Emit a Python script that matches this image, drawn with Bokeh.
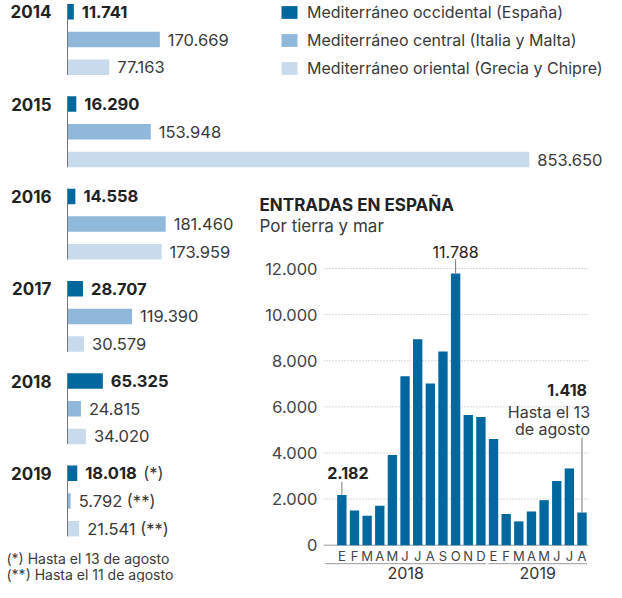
import numpy as np
from bokeh.plotting import figure
from bokeh.models import (ColumnDataSource, Range1d, Legend, LegendItem, Label,
                          FixedTicker)
from bokeh.layouts import column, row
from bokeh.transform import dodge
from bokeh.core.properties import value
from bokeh.embed import file_html
from bokeh.resources import INLINE

# ---------------- data ----------------
years = ["2014", "2015", "2016", "2017", "2018", "2019"]
occidental = [11741, 16290, 14558, 28707, 65325, 18018]
central = [170669, 153948, 181460, 119390, 24815, 5792]
oriental = [77163, 853650, 173959, 30579, 34020, 21541]
series_names = ["Mediterráneo occidental (España)",
                "Mediterráneo central (Italia y Malta)",
                "Mediterráneo oriental (Grecia y Chipre)"]
notes = {"2019": ["(*)", "(**)", "(**)"]}
footnotes = ["(*) Hasta el 13 de agosto", "(**) Hasta el 11 de agosto"]

month_labels = ["E", "F", "M", "A", "M", "J", "J", "A", "S", "O", "N", "D",
                "E", "F", "M", "A", "M", "J", "J", "A"]
month_years = ["2018"] * 12 + ["2019"] * 8
entradas = [2182, 1505, 1277, 1707, 3914, 7329, 8933, 7011, 8404, 11788, 5651, 5565,
            4602, 1350, 1032, 1462, 1952, 2783, 3329, 1418]
y_ticks = [0, 2000, 4000, 6000, 8000, 10000, 12000]
y_tick_labels = ["0", "2.000", "4.000", "6.000", "8.000", "10.000", "12.000"]
inset_title = "ENTRADAS EN ESPAÑA"
inset_subtitle = "Por tierra y mar"
last_note = ["Hasta el 13", "de agosto"]

# ---------------- style / layout ----------------
FONT = "Inter"
COLORS = ["#00689e", "#8fb8da", "#c8dbec"]
DARK_TXT = "#222222"
TXT = "#3a3a3a"
VAL_SIZE = "16.5px"

DX, DY = 4, 9       # shift of the whole picture, px
K = 0.000541        # px per person (left chart)
PXY = 92.3          # px per year group
ROW = 27.7 / PXY    # row spacing inside a group
BH = 15.5 / PXY     # bar thickness
Y0_PX = 20.3 - DY   # canvas y of the first row
AXIS_PX = 71 - DX   # canvas x of the left chart baseline
NOTE_OFF = 66       # offset of the note after a bold value
W = 606
H = 582
TOP_H = 190 - DY
BOT_H = H - TOP_H
LEFT_W = 250
IN_W = W - LEFT_W
TITLE_H = 58
CH_H = BOT_H - TITLE_H


def fmt(v):
    return f"{v:,}".replace(",", ".")


def bare(fig):
    fig.grid.visible = False
    fig.background_fill_color = None
    fig.border_fill_color = None
    return fig


def year_panel(idx, width, top_px, height):
    p = figure(width=width, height=height, output_backend="svg", toolbar_location=None,
               x_range=Range1d(-AXIS_PX / K, (width - AXIS_PX) / K),
               y_range=Range1d(2014 + (top_px + height - Y0_PX) / PXY,
                               2014 - (Y0_PX - top_px) / PXY),
               x_axis_location=None, y_axis_location=None, min_border=0,
               outline_line_color=None, title_location=None)
    bare(p)
    yrs = [int(years[i]) for i in idx]
    renderers = []
    for k, vals in enumerate([occidental, central, oriental]):
        v = [vals[i] for i in idx]
        lab = []
        for i in idx:
            s = fmt(vals[i])
            if k > 0 and years[i] in notes:
                s = s + " " + notes[years[i]][k]
            lab.append(s)
        src = ColumnDataSource(dict(year=yrs, v=v, lab=lab))
        r = p.hbar(y=dodge("year", k * ROW), left=0, right="v", height=BH,
                   fill_color=COLORS[k], line_color=None, source=src)
        renderers.append(r)
        p.text(x="v", y=dodge("year", k * ROW), text="lab", source=src,
               x_offset=8, text_baseline="middle", text_align="left",
               text_font=value(FONT), text_font_size=VAL_SIZE,
               text_font_style="bold" if k == 0 else "normal",
               text_color=DARK_TXT if k == 0 else TXT)
        if k == 0:
            sel = [i for i in idx if years[i] in notes]
            nsrc = ColumnDataSource(dict(year=[int(years[i]) for i in sel],
                                         v=[vals[i] for i in sel],
                                         n=[notes[years[i]][0] for i in sel]))
            p.text(x="v", y="year", text="n", source=nsrc,
                   x_offset=NOTE_OFF, text_baseline="middle",
                   text_font=value(FONT), text_font_size=VAL_SIZE, text_color=TXT)
    ysrc = ColumnDataSource(dict(year=yrs, lab=[years[i] for i in idx]))
    p.text(x=0, y="year", text="lab", source=ysrc, x_offset=-16,
           text_align="right", text_baseline="middle", text_font=value(FONT),
           text_font_size="17px", text_font_style="bold", text_color=DARK_TXT)
    p.segment(x0=0, x1=0, y0=dodge("year", -BH / 2), y1=dodge("year", 2 * ROW + BH / 2),
              source=ysrc, line_color="#777777", line_width=1)
    return p, renderers


# top block: 2014-2015 + legend
top, rends = year_panel([0, 1], W, 0, TOP_H)
legend = Legend(items=[LegendItem(label=n, renderers=[r]) for n, r in zip(series_names, rends)],
                location=(283 - DX, TOP_H - 78), padding=0, margin=0, spacing=8,
                glyph_width=20, glyph_height=16, label_height=20, label_standoff=8,
                label_text_font=FONT, label_text_font_size="16px", label_text_color=TXT,
                border_line_color=None, background_fill_alpha=0)
top.add_layout(legend)

# bottom-left block: 2016-2019 + footnotes
left, _ = year_panel([2, 3, 4, 5], LEFT_W, TOP_H, BOT_H)
for t, yb in zip(footnotes, [24, 8]):
    left.add_layout(Label(x=10 - DX, y=yb, x_units="screen", y_units="screen", text=t,
                          text_font=FONT, text_font_size="14px", text_color=TXT,
                          text_baseline="middle"))

# inset title block
tfig = bare(figure(width=IN_W, height=TITLE_H, output_backend="svg", toolbar_location=None,
                   x_range=Range1d(0, 1), y_range=Range1d(0, 1),
                   x_axis_location=None, y_axis_location=None, min_border=0,
                   outline_line_color=None, title_location=None))
tfig.frame_align = False
tfig.add_layout(Label(x=263 - DX - LEFT_W, y=TITLE_H - 23, x_units="screen", y_units="screen",
                      text=inset_title, text_font=FONT, text_font_size="17px",
                      text_font_style="bold", text_color=DARK_TXT, text_baseline="middle"))
tfig.add_layout(Label(x=263 - DX - LEFT_W, y=TITLE_H - 44, x_units="screen", y_units="screen",
                      text=inset_subtitle, text_font=FONT, text_font_size="17px",
                      text_color=TXT, text_baseline="middle"))

# ---------------- inset chart ----------------
BASE_PX = 305.7     # baseline, from the chart top
TOP_TICK_PX = 29.0  # 12.000 gridline, from the chart top
PXV = (BASE_PX - TOP_TICK_PX) / y_ticks[-1]
IN_LEFT = 327 - DX - LEFT_W
PITCH = 12.64
FIRST_PX = 345.35 - DX - LEFT_W
x_start = -(FIRST_PX - IN_LEFT) / PITCH
x_end = x_start + (IN_W - IN_LEFT) / PITCH
n = len(entradas)

q = bare(figure(width=IN_W, height=CH_H, output_backend="svg", toolbar_location=None,
                x_range=Range1d(x_start, x_end),
                y_range=Range1d(-(CH_H - BASE_PX) / PXV, BASE_PX / PXV),
                x_axis_location=None, y_axis_location="left", min_border=0,
                min_border_left=IN_LEFT, outline_line_color=None, title_location=None))
ax = q.yaxis[0]
ax.ticker = FixedTicker(ticks=y_ticks)
ax.major_label_overrides = {t: l for t, l in zip(y_ticks, y_tick_labels)}
ax.axis_line_color = None
ax.major_tick_line_color = None
ax.minor_tick_line_color = None
ax.major_tick_out = 0
ax.major_tick_in = 0
ax.major_label_standoff = 6
ax.major_label_text_font = FONT
ax.major_label_text_font_size = "16.5px"
ax.major_label_text_color = "#444444"

gsrc = ColumnDataSource(dict(y=y_ticks[1:]))
q.segment(x0=x_start, x1=n - 0.5, y0="y", y1="y", source=gsrc,
          line_color="#b5b5b5", line_dash="1 2", line_width=1)
q.segment(x0=x_start, x1=n - 0.5, y0=y_ticks[0], y1=y_ticks[0],
          line_color="#999999", line_width=1)

msrc = ColumnDataSource(dict(i=list(range(n)), v=entradas, m=month_labels, yr=month_years))
q.vbar(x="i", top="v", width=0.74, bottom=0, fill_color=COLORS[0], line_color=None, source=msrc)
q.text(x="i", y=0, text="m", source=msrc, y_offset=10.5, text_align="center",
       text_baseline="middle", text_font=value(FONT), text_font_size="13px", text_color="#444444")

# year groups: underline + label
groups = []
for g in dict.fromkeys(month_years):
    ids = [i for i, y in enumerate(month_years) if y == g]
    groups.append((g, ids[0], ids[-1]))
ux0 = [x_start + 0.15 if j == 0 else f - 0.5 + 0.09 for j, (g, f, l) in enumerate(groups)]
ux1 = [l + 0.5 - 0.09 if j < len(groups) - 1 else l + 0.4 for j, (g, f, l) in enumerate(groups)]
usrc = ColumnDataSource(dict(x0=ux0, x1=ux1, xm=[(a + b) / 2 for a, b in zip(ux0, ux1)],
                             g=[g[0] for g in groups]))
q.segment(x0="x0", x1="x1", y0=-18.5 / PXV, y1=-18.5 / PXV, source=usrc,
          line_color="#999999", line_width=1)
q.text(x="xm", y=-27.5 / PXV, text="g", source=usrc, text_align="center",
       text_baseline="middle", text_font=value(FONT), text_font_size="16px", text_color="#333333")


def annotate(i, bold, x_off, y_off, lead_px, align="center"):
    v = entradas[i]
    q.segment(x0=i, x1=i, y0=v, y1=v + lead_px / PXV, line_color="#777777", line_width=1)
    q.text(x=i, y=v, text=[fmt(v)], x_offset=x_off, y_offset=y_off, text_align=align,
           text_baseline="middle", text_font=value(FONT), text_font_size="16px",
           text_font_style="bold" if bold else "normal", text_color=DARK_TXT)


annotate(0, True, 6, -22, 13)
annotate(9, False, 0, -21, 14)
annotate(n - 1, True, 5, -123, 75, align="right")
for txt, yo in zip(last_note, [-101, -84]):
    q.text(x=n - 1, y=entradas[n - 1], text=[txt], x_offset=8, y_offset=yo,
           text_align="right", text_baseline="middle", text_font=value(FONT),
           text_font_size="16px", text_color=TXT)

layout = column(top, row(left, column(tfig, q, spacing=0), spacing=0), spacing=0)
open("out.html", "w").write(file_html(layout, INLINE))
